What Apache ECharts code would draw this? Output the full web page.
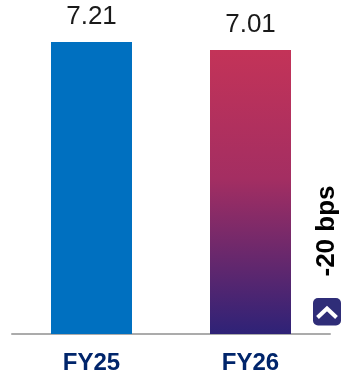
<!DOCTYPE html>
<html>
<head>
<meta charset="utf-8">
<style>html,body{margin:0;padding:0;background:#fff}#chart{width:352px;height:375px}</style>
<script src="https://cdn.jsdelivr.net/npm/echarts@6/dist/echarts.min.js"></script>
</head>
<body>
<div id="chart"></div>
<script>
const categories = ['FY25', 'FY26'];
const yields = [7.21, 7.01];
const changeLabel = '-20 bps';

const chart = echarts.init(document.getElementById('chart'), null, { renderer: 'canvas' });
const font = '"Liberation Sans", Arial, sans-serif';

chart.setOption({
  animation: false,
  backgroundColor: '#fff',
  grid: { left: 12, right: 22, top: 42, bottom: 39 },
  xAxis: {
    type: 'category',
    data: categories,
    axisTick: { show: false },
    axisLine: { lineStyle: { color: '#ababab', width: 2 } },
    axisLabel: { color: '#00256b', fontFamily: font, fontWeight: 'bold', fontSize: 24, margin: 17 }
  },
  yAxis: { type: 'value', min: 0, max: 7.21, show: false, splitLine: { show: false } },
  series: [{
    type: 'bar',
    barWidth: 81,
    z: 1,
    data: [
      { value: yields[0], itemStyle: { color: '#0070c0' } },
      {
        value: yields[1],
        itemStyle: {
          color: new echarts.graphic.LinearGradient(0, 0, 0, 1, [
            { offset: 0, color: '#c33358' },
            { offset: 0.45, color: '#a42e62' },
            { offset: 1, color: '#2e2277' }
          ])
        }
      }
    ],
    label: {
      show: true,
      position: 'top',
      distance: 12,
      color: '#1a1a1a',
      fontFamily: font,
      fontSize: 26,
      formatter: p => p.value.toFixed(2)
    }
  }],
  graphic: [
    {
      type: 'text',
      x: 327,
      y: 231,
      rotation: Math.PI / 2,
      style: {
        text: changeLabel,
        fill: '#000',
        font: 'bold 26px ' + font,
        align: 'center',
        verticalAlign: 'middle'
      }
    },
    {
      type: 'rect',
      shape: { x: 313, y: 298, width: 28, height: 27.5, r: 5 },
      style: { fill: '#2f2d78' }
    },
    {
      type: 'polyline',
      shape: { points: [[317.5, 317.5], [327, 308.5], [336.5, 317.5]] },
      style: { stroke: '#fff', lineWidth: 4, fill: null }
    }
  ]
});
</script>
</body>
</html>
